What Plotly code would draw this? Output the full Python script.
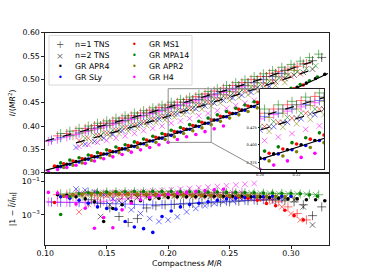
import plotly.graph_objects as go

W, H = 365, 274
FONT = "DejaVu Sans"

# ---------------- data ----------------
EOS = ["APR4", "SLy", "MS1", "MPA14", "APR2", "H4"]
EOS_COLORS = ["#000000", "#0000ff", "#ff0000", "#008000", "#808000", "#ff00ff"]

# GR (dots)
GR_C_APR4 = [0.110,0.1175,0.125,0.1325,0.140,0.1475,0.155,0.1625,0.170,0.1775,0.185,0.1925,0.200,0.2075,0.215,0.2225,0.230,0.2375,0.245,0.2525,0.260,0.2675,0.275,0.2825,0.290,0.2975,0.305,0.3125,0.320,0.3275]
GR_I_APR4 = [0.313,0.318,0.324,0.329,0.334,0.340,0.345,0.351,0.357,0.362,0.368,0.374,0.381,0.387,0.393,0.400,0.406,0.413,0.420,0.427,0.434,0.442,0.450,0.458,0.466,0.474,0.483,0.492,0.502,0.511]
GR_R_APR4 = [0.016,0.015,0.012,0.009,0.006,0.0004,0.0024,0.004,0.006,0.007,0.009,0.010,0.011,0.012,0.012,0.012,0.013,0.013,0.013,0.013,0.013,0.012,0.012,0.011,0.010,0.009,0.009,0.008,0.008,0.007]

GR_C_SLy = [0.1125,0.120,0.1275,0.135,0.1425,0.150,0.1575,0.165,0.1725,0.180,0.1875,0.195,0.2025,0.210,0.2175,0.225,0.2325,0.240,0.2475,0.255,0.2625,0.270,0.2775,0.285,0.2925,0.300]
GR_I_SLy = [0.313,0.318,0.323,0.329,0.334,0.340,0.345,0.351,0.356,0.362,0.368,0.374,0.380,0.387,0.393,0.399,0.406,0.413,0.420,0.427,0.434,0.442,0.450,0.458,0.466,0.475]
GR_R_SLy = [0.012,0.010,0.0075,0.005,0.003,0.0024,0.0022,0.0004,0.00019,0.00015,0.00009,0.0008,0.0017,0.003,0.0042,0.005,0.006,0.0075,0.009,0.010,0.011,0.012,0.012,0.013,0.013,0.013]

GR_C_MS1 = [0.1075,0.115,0.1225,0.130,0.1375,0.145,0.1525,0.160,0.1675,0.175,0.1825,0.190,0.1975,0.205,0.2125,0.220,0.2275,0.235,0.2425,0.250,0.2575,0.265,0.2725,0.280,0.2875,0.295,0.3025,0.310]
GR_I_MS1 = [0.314,0.319,0.325,0.330,0.336,0.341,0.347,0.352,0.358,0.364,0.370,0.376,0.382,0.388,0.394,0.401,0.408,0.414,0.421,0.428,0.436,0.443,0.451,0.459,0.466,0.473,0.480,0.488]
GR_R_MS1 = [0.0055,0.013,0.016,0.017,0.018,0.018,0.018,0.018,0.018,0.017,0.017,0.017,0.016,0.016,0.016,0.015,0.015,0.014,0.014,0.013,0.012,0.010,0.0075,0.0048,0.0035,0.0019,0.0009,0.0005]

GR_C_MPA14 = [0.1125,0.120,0.1275,0.135,0.1425,0.150,0.1575,0.165,0.1725,0.180,0.1875,0.195,0.2025,0.210,0.2175,0.225,0.2325,0.240,0.2475,0.255,0.2625,0.270,0.2775,0.285,0.2925,0.300,0.3075,0.315,0.3215]
GR_I_MPA14 = [0.321,0.327,0.332,0.338,0.343,0.349,0.355,0.360,0.366,0.372,0.378,0.384,0.391,0.397,0.403,0.410,0.417,0.424,0.431,0.438,0.445,0.452,0.459,0.466,0.474,0.481,0.489,0.497,0.505]
GR_R_MPA14 = [0.00105,0.012,0.018,0.021,0.022,0.023,0.024,0.024,0.025,0.025,0.025,0.025,0.025,0.024,0.024,0.024,0.023,0.023,0.022,0.022,0.021,0.021,0.020,0.020,0.019,0.019,0.018,0.016,0.013]

GR_C_APR2 = [0.115,0.1225,0.130,0.1375,0.145,0.1525,0.160,0.1675,0.175,0.1825,0.190,0.1975,0.205,0.2125,0.220,0.2275,0.235,0.2425,0.250,0.2575,0.265,0.2725,0.280,0.2875,0.295]
GR_I_APR2 = [0.311,0.316,0.321,0.326,0.332,0.337,0.343,0.348,0.354,0.359,0.365,0.371,0.377,0.384,0.390,0.396,0.403,0.410,0.417,0.424,0.431,0.439,0.447,0.454,0.463]
GR_R_APR2 = [0.014,0.016,0.017,0.018,0.018,0.018,0.018,0.017,0.017,0.017,0.016,0.016,0.016,0.015,0.015,0.015,0.015,0.014,0.014,0.014,0.014,0.013,0.013,0.013,0.012]

GR_C_H4 = [0.1025,0.110,0.1175,0.125,0.1325,0.140,0.1475,0.155,0.1625,0.170,0.1775,0.185,0.1925,0.200,0.2075,0.215,0.2225,0.230,0.2375,0.245]
GR_I_H4 = [0.302,0.307,0.311,0.316,0.320,0.325,0.330,0.334,0.339,0.344,0.349,0.354,0.360,0.365,0.371,0.377,0.382,0.388,0.394,0.400]
GR_R_H4 = [0.022,0.020,0.012,0.0045,0.0025,0.00016,0.0007,0.00017,0.002,0.005,0.008,0.011,0.014,0.017,0.020,0.022,0.025,0.028,0.031,0.034]

GR_FIT_C = [0.10,0.11,0.12,0.13,0.14,0.15,0.16,0.17,0.18,0.19,0.20,0.21,0.22,0.23,0.24,0.25,0.26,0.27,0.28,0.29,0.30,0.31,0.32,0.33]
GR_FIT_I = [0.3049,0.3118,0.3188,0.3259,0.3331,0.3404,0.3478,0.3553,0.3630,0.3709,0.3790,0.3873,0.3958,0.4046,0.4136,0.4230,0.4327,0.4428,0.4533,0.4642,0.4755,0.4873,0.4997,0.5126]

# n=1 TNS (plus)
N1_C_APR4 = [0.1375,0.145,0.1525,0.160,0.1675,0.175,0.1825,0.190,0.1975,0.205,0.2125,0.220,0.2275,0.235,0.2425,0.250,0.2575,0.265,0.2725,0.280,0.2875,0.295,0.3025,0.310,0.3175,0.325]
N1_I_APR4 = [0.395,0.401,0.406,0.411,0.417,0.422,0.428,0.434,0.439,0.445,0.451,0.457,0.462,0.468,0.474,0.480,0.487,0.493,0.499,0.506,0.513,0.519,0.526,0.533,0.540,0.547]
N1_R_APR4 = [0.008,0.005,0.0026,0.0008,0.00035,0.0006,0.0026,0.0035,0.004,0.0042,0.0045,0.0048,0.005,0.0053,0.0057,0.006,0.0065,0.007,0.0072,0.0075,0.0075,0.007,0.006,0.004,0.0009,0.003]

N1_C_SLy = [0.105,0.1125,0.120,0.1275,0.135,0.1425,0.150,0.1575,0.165,0.1725,0.180,0.1875,0.195,0.2025,0.210,0.2175,0.225,0.2325,0.240,0.2475,0.255,0.2625,0.270,0.2775,0.285,0.2925]
N1_I_SLy = [0.370,0.375,0.380,0.385,0.390,0.396,0.401,0.406,0.412,0.417,0.423,0.428,0.434,0.440,0.445,0.451,0.457,0.463,0.469,0.475,0.481,0.487,0.493,0.500,0.506,0.513]
N1_R_SLy = [0.0058,0.0056,0.0055,0.0054,0.0052,0.005,0.0048,0.0046,0.0044,0.0042,0.004,0.004,0.0041,0.0043,0.0046,0.005,0.0054,0.0058,0.0062,0.0066,0.007,0.0074,0.0078,0.0082,0.0086,0.009]

N1_C_MS1 = [0.110,0.1175,0.125,0.1325,0.140,0.1475,0.155,0.1625,0.170,0.1775,0.185,0.1925,0.200,0.2075,0.215,0.2225,0.230,0.2375,0.245,0.2525,0.260,0.2675,0.275,0.2825,0.290,0.2975,0.305,0.3125]
N1_I_MS1 = [0.379,0.384,0.390,0.395,0.401,0.406,0.411,0.417,0.422,0.428,0.434,0.440,0.445,0.451,0.457,0.463,0.469,0.475,0.481,0.487,0.493,0.500,0.506,0.513,0.517,0.522,0.528,0.534]
N1_R_MS1 = [0.016,0.017,0.017,0.018,0.018,0.018,0.018,0.017,0.017,0.017,0.017,0.016,0.016,0.016,0.016,0.015,0.015,0.015,0.014,0.014,0.013,0.012,0.011,0.009,0.006,0.003,0.0012,0.0005]

N1_C_MPA14 = [0.1125,0.120,0.1275,0.135,0.1425,0.150,0.1575,0.165,0.1725,0.180,0.1875,0.195,0.2025,0.210,0.2175,0.225,0.2325,0.240,0.2475,0.255,0.2625,0.270,0.2775,0.285,0.2925,0.300,0.3075,0.315,0.3225]
N1_I_MPA14 = [0.384,0.389,0.395,0.400,0.406,0.411,0.417,0.422,0.428,0.433,0.439,0.445,0.451,0.457,0.462,0.468,0.474,0.480,0.487,0.493,0.499,0.506,0.512,0.519,0.526,0.532,0.539,0.547,0.554]
N1_R_MPA14 = [0.018,0.020,0.021,0.022,0.022,0.023,0.023,0.024,0.024,0.024,0.024,0.024,0.024,0.023,0.023,0.023,0.022,0.022,0.022,0.021,0.021,0.020,0.020,0.019,0.019,0.018,0.018,0.017,0.016]

N1_C_APR2 = [0.1225,0.130,0.1375,0.145,0.1525,0.160,0.1675,0.175,0.1825,0.190,0.1975,0.205,0.2125,0.220,0.2275,0.235,0.2425,0.250,0.2575,0.265,0.2725,0.280,0.2875,0.295,0.3025]
N1_I_APR2 = [0.379,0.385,0.390,0.395,0.401,0.406,0.411,0.417,0.422,0.428,0.434,0.439,0.445,0.451,0.456,0.462,0.468,0.474,0.480,0.487,0.493,0.499,0.506,0.512,0.519]
N1_R_APR2 = [0.012,0.013,0.014,0.014,0.015,0.015,0.015,0.015,0.015,0.015,0.015,0.014,0.014,0.014,0.014,0.014,0.013,0.013,0.013,0.013,0.012,0.012,0.012,0.011,0.011]

N1_C_H4 = [0.1025,0.110,0.1175,0.125,0.1325,0.140,0.1475,0.155,0.1625,0.170,0.1775,0.185,0.1925,0.200,0.2075,0.215,0.2225,0.230,0.2375,0.245,0.2525,0.260]
N1_I_H4 = [0.367,0.372,0.377,0.382,0.388,0.393,0.398,0.404,0.409,0.414,0.420,0.426,0.431,0.437,0.443,0.448,0.454,0.460,0.466,0.472,0.478,0.484]
N1_R_H4 = [0.006,0.0058,0.0057,0.0057,0.0058,0.006,0.0065,0.0075,0.009,0.010,0.012,0.013,0.014,0.015,0.016,0.017,0.018,0.019,0.020,0.021,0.022,0.023]

N1_FIT_C = [0.10,0.125,0.15,0.175,0.20,0.225,0.25,0.275,0.30,0.325]
N1_FIT_I = [0.368,0.385,0.403,0.421,0.440,0.459,0.479,0.500,0.522,0.545]

# n=2 TNS (cross)
N2_C_APR4 = [0.145,0.1525,0.160,0.1675,0.175,0.1825,0.190,0.1975,0.205,0.2125,0.220,0.2275,0.235,0.2425,0.250,0.2575,0.265,0.2725,0.280,0.2875,0.295,0.3025,0.310,0.3175]
N2_I_APR4 = [0.380,0.385,0.391,0.396,0.402,0.408,0.414,0.420,0.426,0.432,0.438,0.444,0.451,0.457,0.463,0.470,0.476,0.482,0.489,0.495,0.502,0.509,0.515,0.522]
N2_R_APR4 = [0.0008,0.004,0.007,0.009,0.011,0.012,0.012,0.013,0.013,0.013,0.013,0.013,0.013,0.013,0.013,0.012,0.012,0.012,0.012,0.011,0.010,0.008,0.003,0.00025]

N2_C_SLy = [0.125,0.1325,0.140,0.1475,0.155,0.1625,0.170,0.1775,0.185,0.1925,0.200,0.2075,0.215,0.2225,0.230,0.2375,0.245,0.2525,0.260,0.2675,0.275,0.2825]
N2_I_SLy = [0.354,0.361,0.367,0.374,0.382,0.390,0.396,0.403,0.409,0.415,0.421,0.426,0.432,0.437,0.443,0.449,0.455,0.460,0.466,0.472,0.478,0.485]
N2_R_SLy = [0.035,0.030,0.024,0.016,0.009,0.0045,0.002,0.0012,0.0006,0.0004,0.0005,0.00076,0.0015,0.0024,0.0035,0.0048,0.006,0.007,0.0082,0.0092,0.010,0.011]

N2_C_MS1 = [0.1275,0.135,0.1425,0.150,0.1575,0.165,0.1725,0.180,0.1875,0.195,0.2025,0.210,0.2175,0.225,0.2325,0.240,0.2475,0.255,0.2625,0.270,0.2775,0.285,0.2925,0.300,0.3075]
N2_I_MS1 = [0.369,0.374,0.380,0.385,0.391,0.397,0.402,0.408,0.414,0.420,0.426,0.432,0.438,0.445,0.451,0.457,0.464,0.470,0.476,0.483,0.489,0.496,0.501,0.506,0.512]
N2_R_MS1 = [0.0015,0.0042,0.010,0.014,0.016,0.016,0.016,0.016,0.016,0.016,0.016,0.016,0.015,0.015,0.015,0.015,0.014,0.014,0.013,0.013,0.009,0.006,0.003,0.0012,0.0005]

N2_C_MPA14 = [0.1325,0.140,0.1475,0.155,0.1625,0.170,0.1775,0.185,0.1925,0.200,0.2075,0.215,0.2225,0.230,0.2375,0.245,0.2525,0.260,0.2675,0.275,0.2825,0.290,0.2975,0.305,0.3125,0.320]
N2_I_MPA14 = [0.374,0.380,0.385,0.391,0.397,0.402,0.408,0.414,0.420,0.426,0.433,0.439,0.445,0.451,0.457,0.464,0.470,0.477,0.483,0.489,0.496,0.503,0.509,0.516,0.523,0.529]
N2_R_MPA14 = [0.020,0.021,0.022,0.022,0.023,0.023,0.023,0.023,0.023,0.023,0.023,0.023,0.022,0.022,0.022,0.022,0.021,0.021,0.021,0.020,0.020,0.019,0.019,0.018,0.017,0.016]

N2_C_APR2 = [0.130,0.1375,0.145,0.1525,0.160,0.1675,0.175,0.1825,0.190,0.1975,0.205,0.2125,0.220,0.2275,0.235,0.2425,0.250,0.2575,0.265,0.2725,0.280,0.2875,0.295]
N2_I_APR2 = [0.362,0.367,0.373,0.378,0.384,0.389,0.395,0.401,0.407,0.413,0.419,0.425,0.430,0.436,0.443,0.449,0.455,0.461,0.467,0.474,0.480,0.487,0.493]
N2_R_APR2 = [0.013,0.014,0.015,0.015,0.016,0.016,0.016,0.016,0.016,0.016,0.015,0.015,0.015,0.015,0.015,0.014,0.014,0.014,0.014,0.013,0.013,0.013,0.012]

N2_C_H4 = [0.1275,0.135,0.1425,0.150,0.1575,0.165,0.1725,0.180,0.1875,0.195,0.2025,0.210,0.2175,0.225,0.2325,0.240,0.2475,0.255,0.2625,0.270]
N2_I_H4 = [0.356,0.360,0.365,0.369,0.374,0.379,0.384,0.390,0.395,0.400,0.406,0.411,0.416,0.422,0.427,0.433,0.438,0.444,0.449,0.455]
N2_R_H4 = [0.018,0.019,0.020,0.020,0.021,0.022,0.023,0.025,0.027,0.029,0.032,0.035,0.038,0.042,0.046,0.050,0.055,0.061,0.068,0.075]

N2_FIT_C = [0.125,0.15,0.175,0.20,0.225,0.25,0.275,0.30,0.32]
N2_FIT_I = [0.364,0.382,0.401,0.421,0.441,0.462,0.483,0.505,0.523]

X_TICKS = [0.10, 0.15, 0.20, 0.25, 0.30]
Y_TICKS = [0.30, 0.35, 0.40, 0.45, 0.50, 0.55, 0.60]
R_TICKS = [1e-1, 1e-3]
R_TICK_TEXT = ["10<sup>\u22121</sup>", "10<sup>\u22123</sup>"]
INS_X_TICKS = [0.20, 0.22]
INS_Y_TICKS = [0.375, 0.400, 0.425]

LEGEND_COL1 = ["n=1 TNS", "n=2 TNS", "GR APR4", "GR SLy"]
LEGEND_COL2 = ["GR MS1", "GR MPA14", "GR APR2", "GR H4"]

# ---------------- layout constants (pixels) ----------------
AX_L, AX_R = 45.3, 328.5
MAIN_T, MAIN_B = 32.7, 172.7
RES_B = 245.0
INS_L, INS_R, INS_T, INS_B = 260.0, 324.0, 88.7, 169.3
X_RANGE = [0.10, 0.3305]
Y_RANGE = [0.30, 0.60]
R_RANGE = [-4.8, -0.48]
INS_X = [0.20, 0.235]
INS_Y = [0.365, 0.48]

def fx(p):
    return p / W

def fy(p):
    return 1 - p / H

def rgba(hexc, a):
    h = hexc.lstrip("#")
    return "rgba(%d,%d,%d,%.2f)" % (int(h[0:2], 16), int(h[2:4], 16), int(h[4:6], 16), a)

G = globals()
fig = go.Figure()

FAMILIES = [("N1", "cross-thin", 6.5, 0.55), ("N2", "x-thin", 5.5, 0.55), ("GR", "circle", 3.6, 1.0)]

for fam, sym, size, alpha in FAMILIES:
    for eos, col in zip(EOS, EOS_COLORS):
        cs = G[f"{fam}_C_{eos}"]
        iv = G[f"{fam}_I_{eos}"]
        rv = G[f"{fam}_R_{eos}"]
        if sym == "circle":
            mk = dict(symbol=sym, size=size, color=col, line=dict(width=0))
        else:
            mk = dict(symbol=sym, size=size, color=rgba(col, alpha),
                      line=dict(width=1, color=rgba(col, alpha)))
        for xa, ya, yv in (("x", "y", iv), ("x3", "y3", iv), ("x2", "y2", rv)):
            fig.add_trace(go.Scatter(x=cs, y=yv, mode="markers", marker=mk,
                                     xaxis=xa, yaxis=ya, showlegend=False,
                                     hoverinfo="skip"))

for cs, iv, dash in ((GR_FIT_C, GR_FIT_I, "solid"), (N1_FIT_C, N1_FIT_I, "dash"),
                     (N2_FIT_C, N2_FIT_I, "dash")):
    for xa, ya in (("x", "y"), ("x3", "y3")):
        fig.add_trace(go.Scatter(x=cs, y=iv, mode="lines",
                                 line=dict(color="black", width=1.2, dash=dash),
                                 xaxis=xa, yaxis=ya, showlegend=False, hoverinfo="skip"))

tickfont = dict(family=FONT, size=7.8, color="black")
axis_common = dict(showline=True, mirror=True, linecolor="#222", linewidth=0.8,
                   ticks="outside", ticklen=3, tickwidth=0.8, tickcolor="#222",
                   showgrid=False, zeroline=False, automargin=False, tickfont=tickfont)

fig.update_layout(
    width=W, height=H, margin=dict(l=0, r=0, t=0, b=0),
    paper_bgcolor="white", plot_bgcolor="white", showlegend=False,
    font=dict(family=FONT, size=7.8, color="black"),
    xaxis=dict(domain=[fx(AX_L), fx(AX_R)], range=X_RANGE, anchor="y",
               showticklabels=False, **{k: v for k, v in axis_common.items() if k != "ticks"}, ticks=""),
    yaxis=dict(domain=[fy(MAIN_B), fy(MAIN_T)], range=Y_RANGE, anchor="x",
               tickvals=Y_TICKS, ticktext=["%.2f" % v for v in Y_TICKS], **axis_common),
    xaxis2=dict(domain=[fx(AX_L), fx(AX_R)], range=X_RANGE, anchor="y2",
                tickvals=X_TICKS, ticktext=["%.2f" % v for v in X_TICKS],
                ticklabelstandoff=-2, **axis_common),
    yaxis2=dict(domain=[fy(RES_B), fy(MAIN_B)], range=R_RANGE, type="log", anchor="x2",
                tickvals=R_TICKS, ticktext=R_TICK_TEXT, **axis_common),
    xaxis3=dict(domain=[fx(INS_L), fx(INS_R)], range=INS_X, anchor="y3",
                tickvals=INS_X_TICKS, ticktext=["%.2f" % v for v in INS_X_TICKS],
                **{k: v for k, v in axis_common.items() if k not in ("tickfont", "ticklen")},
                ticklen=1.5, tickfont=dict(family=FONT, size=3.6, color="black")),
    yaxis3=dict(domain=[fy(INS_B), fy(INS_T)], range=INS_Y, anchor="x3",
                tickvals=INS_Y_TICKS, ticktext=["%.3f" % v for v in INS_Y_TICKS],
                **{k: v for k, v in axis_common.items() if k not in ("tickfont", "ticklen")},
                ticklen=1.5, tickfont=dict(family=FONT, size=3.6, color="black")),
)

# inset marker rectangle + connectors
def main_x(px):
    return X_RANGE[0] + (px - AX_L) / (AX_R - AX_L) * (X_RANGE[1] - X_RANGE[0])

def main_y(py):
    return Y_RANGE[0] + (MAIN_B - py) / (MAIN_B - MAIN_T) * (Y_RANGE[1] - Y_RANGE[0])

gray = dict(color="#808080", width=0.9)
fig.add_shape(type="rect", xref="x", yref="y", x0=INS_X[0], x1=INS_X[1],
              y0=INS_Y[0], y1=INS_Y[1], line=gray)
fig.add_shape(type="line", xref="x", yref="y", x0=INS_X[1], y0=INS_Y[0],
              x1=main_x(INS_L), y1=main_y(INS_B), line=gray)
fig.add_shape(type="line", xref="x", yref="y", x0=INS_X[1], y0=INS_Y[1],
              x1=main_x(INS_L), y1=main_y(INS_T), line=gray)

# legend (manual, matplotlib style, 2 columns)
LG_L, LG_T, LG_R, LG_B = 49.0, 35.5, 192.0, 85.0
fig.add_shape(type="rect", xref="paper", yref="paper", x0=fx(LG_L), x1=fx(LG_R),
              y0=fy(LG_B), y1=fy(LG_T), line=dict(color="#d0d0d0", width=0.8),
              fillcolor="rgba(255,255,255,0.8)", layer="above")
ROW0, ROWH = 44.0, 11.3
col1_syms = [("+", "rgba(0,0,0,0.6)", 10), ("\u00d7", "rgba(0,0,0,0.6)", 9.5),
             ("\u2022", EOS_COLORS[0], 8), ("\u2022", EOS_COLORS[1], 8)]
col2_syms = [("\u2022", EOS_COLORS[2], 8), ("\u2022", EOS_COLORS[3], 8),
             ("\u2022", EOS_COLORS[4], 8), ("\u2022", EOS_COLORS[5], 8)]
for k in range(4):
    yy = fy(ROW0 + k * ROWH)
    for (sym, scol, ssz), label, sx, tx in ((col1_syms[k], LEGEND_COL1[k], 60.0, 73.0),
                                             (col2_syms[k], LEGEND_COL2[k], 134.0, 146.5)):
        fig.add_annotation(x=fx(sx), y=yy, xref="paper", yref="paper", text=sym,
                           showarrow=False, xanchor="center", yanchor="middle",
                           font=dict(family=FONT, size=ssz, color=scol))
        fig.add_annotation(x=fx(tx), y=yy, xref="paper", yref="paper", text=label,
                           showarrow=False, xanchor="left", yanchor="middle",
                           font=dict(family=FONT, size=7.8, color="black"))

# axis titles
fig.add_annotation(x=fx(11.5), y=fy((MAIN_T + MAIN_B) / 2), xref="paper", yref="paper",
                   text="<i>I</i>/(<i>MR</i><sup>2</sup>)", textangle=-90, showarrow=False,
                   xanchor="center", yanchor="middle", font=dict(family=FONT, size=7.8))
fig.add_annotation(x=fx(12.5), y=fy((MAIN_B + RES_B) / 2), xref="paper", yref="paper",
                   text="|1 \u2212 <i>\u012a</i>/<i>\u012a</i><sub>fit</sub>|", textangle=-90,
                   showarrow=False, xanchor="center", yanchor="middle",
                   font=dict(family=FONT, size=7.8))
fig.add_annotation(x=fx((AX_L + AX_R) / 2), y=fy(263), xref="paper", yref="paper",
                   text="Compactness <i>M</i>/<i>R</i>", showarrow=False,
                   xanchor="center", yanchor="middle", font=dict(family=FONT, size=7.8))

# the page body has a default 8px margin; remove it so the figure sits at the window origin
fig.write_html("out.html", config={"displayModeBar": False},
               post_script="document.body.style.margin='0px';")
